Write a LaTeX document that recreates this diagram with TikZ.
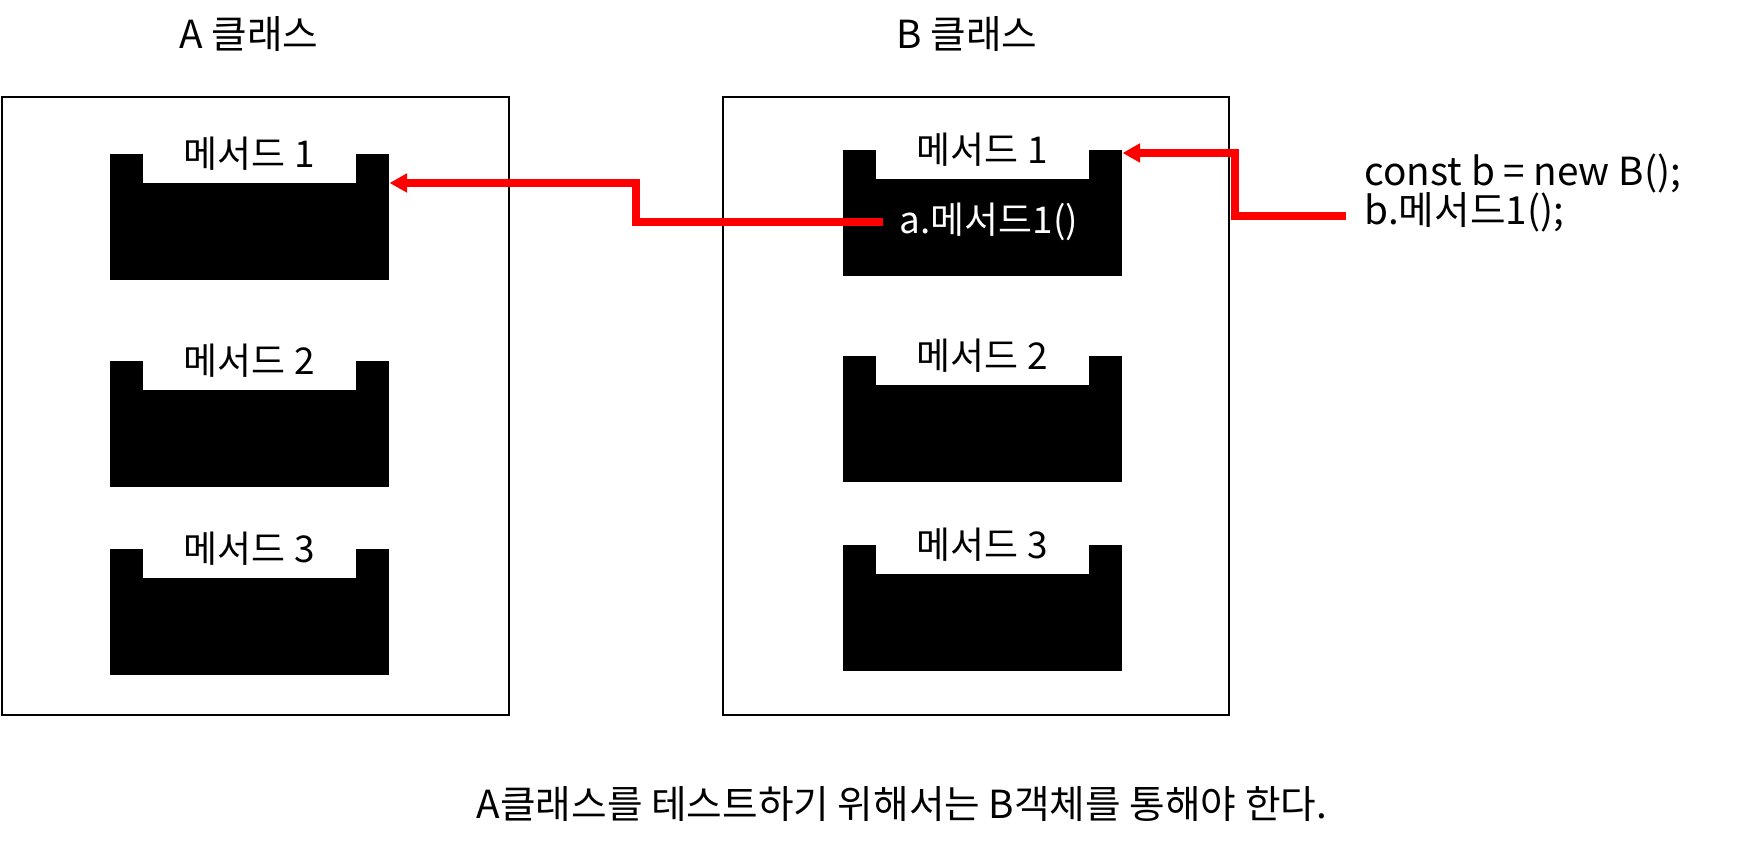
\documentclass[tikz,border=0pt]{standalone}
\usepackage{fontspec}
\setmainfont{Noto Sans CJK KR}
\usetikzlibrary{arrows.meta,calc}
\begin{document}
\begin{tikzpicture}[x=0.01cm,y=-0.01cm,
  cls/.style={draw=black,line width=0.6pt,inner sep=0,anchor=north west},
  blk/.style={fill=black,minimum width=2.79cm,minimum height=1.26cm,inner sep=0,anchor=north west},
  notch/.style={fill=white,minimum width=2.13cm,minimum height=0.29cm,inner sep=0,anchor=north},
  lbl/.style={font=\fontsize{10.5}{12}\selectfont,inner sep=0},
  txt/.style={font=\fontsize{11}{13}\selectfont,inner sep=0},
  call/.style={red,line width=2pt,-{Triangle[length=5pt,width=5.2pt]}}]
\useasboundingbox[fill=white] (0,0) rectangle (1762,852);

% class titles
\node[txt] (tA) at (249,34) {A 클래스};
\node[txt] (tB) at (967,34) {B 클래스};

% class boxes
\node[cls,minimum width=5.07cm,minimum height=6.18cm] (boxA) at (1,96) {};
\node[cls,minimum width=5.06cm,minimum height=6.18cm] (boxB) at (722,96) {};

% A methods
\foreach \n/\y in {1/153,2/360,3/548}{
  \node[blk] (A\n) at (109,\y) {};
  \node[notch] (A\n n) at (A\n.north) {};
  \node[lbl] (A\n l) at ($(A\n.north)+(0,1)$) {메서드 \n};
}
% B methods
\foreach \n/\y in {1/149,2/355,3/544}{
  \node[blk] (B\n) at (842,\y) {};
  \node[notch] (B\n n) at (B\n.north) {};
  \node[lbl] (B\n l) at ($(B\n.north)+(0,1)$) {메서드 \n};
}

% call inside B method 1
\node[lbl,text=white,anchor=west,inner xsep=0.16cm] (callA) at (883,222) {a.메서드1()};

% outside code
\node[txt,anchor=base west] (code1) at (1364,186) {const b = new B();};
\node[txt,anchor=base west,inner xsep=0.18cm] (code2) at (1346,225) {b.메서드1();};

% arrows
\coordinate (hitA) at ($(A1.north east)+(0,30)$);
\coordinate (hitB) at ($(B1.north east)+(0,4)$);
\coordinate (fromB) at ($(code2.base west)+(0,-9)$);
\draw[call] (callA.west) -- ++(-247,0) |- (hitA);
\draw[call] (fromB) -- ++(-111,0) |- (hitB);

% caption
\node[txt] (cap) at (902,804) {A클래스를 테스트하기 위해서는 B객체를 통해야 한다.};
\end{tikzpicture}
\end{document}
